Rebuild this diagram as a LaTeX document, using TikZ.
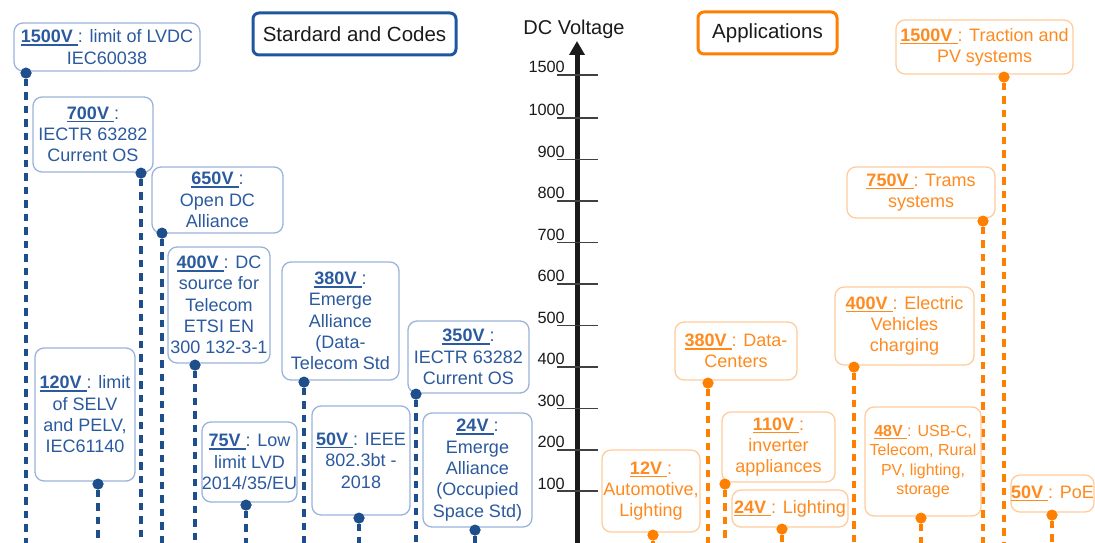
\documentclass[tikz,border=0pt]{standalone}
\usepackage{fontspec}
\setmainfont{Liberation Sans}
\usetikzlibrary{arrows.meta}
\definecolor{btext}{HTML}{2B5A9E}
\definecolor{bborder}{HTML}{9BB3DA}
\definecolor{bdot}{HTML}{1F4E8C}
\definecolor{tblue}{HTML}{1F56A0}
\definecolor{otext}{HTML}{FF8A1E}
\definecolor{oborder}{HTML}{FFCC9C}
\definecolor{odot}{HTML}{FF8000}
\definecolor{tickgray}{HTML}{404040}
\definecolor{ink}{HTML}{1A1A1A}
\newcommand{\vl}[1]{\setbox0\hbox{\textbf{#1}\ }\rlap{\rule[-3pt]{\wd0}{1.5pt}}\box0}
\tikzset{
  box/.style={rounded corners=9pt, line width=1.3pt, align=center, inner sep=0pt, fill=white,
    font=\fontsize{18}{21.3}\selectfont},
  bbox/.style={box, draw=bborder, text=btext},
  obox/.style={box, draw=oborder, text=otext},
  bdotst/.style={circle, fill=bdot, inner sep=0pt, minimum size=11pt},
  odotst/.style={circle, fill=odot, inner sep=0pt, minimum size=11pt},
  blink/.style={draw=bdot, line width=3.1pt, dash pattern=on 7.5pt off 6pt},
  olink/.style={draw=odot, line width=3.1pt, dash pattern=on 7.5pt off 6pt},
  titlebox/.style={rounded corners=6pt, line width=3pt, inner sep=0pt, text=ink,
    font=\fontsize{20.5}{24}\selectfont},
  tickst/.style={draw=tickgray, line width=1.6pt},
  ticklab/.style={anchor=base east, text=ink, font=\fontsize{16.3}{18}\selectfont, inner sep=0pt}
}
\begin{document}
\begin{tikzpicture}[x=1pt,y=-1pt]
\useasboundingbox (0,0) rectangle (1095,543);

% ---------- dots and bottom coordinates ----------
\node[bdotst] (db1) at (26,73) {};
\node[bdotst] (db2) at (141,173) {};
\node[bdotst] (db3) at (162,233) {};
\node[bdotst] (db4) at (195,365) {};
\node[bdotst] (db5) at (98,484) {};
\node[bdotst] (db6) at (246,505) {};
\node[bdotst] (db7) at (304,382) {};
\node[bdotst] (db8) at (359,518) {};
\node[bdotst] (db9) at (416,394) {};
\node[bdotst] (db10) at (475,530) {};
\node[odotst] (do1) at (1004,77) {};
\node[odotst] (do2) at (983,221) {};
\node[odotst] (do3) at (854,367) {};
\node[odotst] (do4) at (708,383) {};
\node[odotst] (do5) at (725,484) {};
\node[odotst] (do6) at (782,529) {};
\node[odotst] (do7) at (653,535) {};
\node[odotst] (do8) at (921,518) {};
\node[odotst] (do9) at (1052,515) {};

\foreach \n/\x in {b1/26,b2/141,b3/162,b4/195,b5/98,b6/246,b7/304,b8/359,b9/416,b10/475,
                   o1/1004,o2/983,o3/854,o4/708,o5/725,o6/782,o7/653,o8/921,o9/1052}
  \coordinate (e\n) at (\x,545);

\foreach \n in {b1,b2,b3,b4,b5,b6,b7,b8,b9,b10}
  \draw[blink] (d\n) -- (e\n);
\foreach \n in {o1,o2,o3,o4,o5,o6,o7,o8,o9}
  \draw[olink] (d\n) -- (e\n);

% ---------- blue boxes ----------
\node[bbox, minimum width=186pt, minimum height=48pt] (b1) at (107,47)
  {\vl{1500V}: limit of LVDC\\IEC60038};
\node[bbox, minimum width=120pt, minimum height=75pt] (b2) at (93,134.5)
  {\vl{700V}:\\IECTR 63282\\Current OS};
\node[bbox, minimum width=131pt, minimum height=66pt] (b3) at (217.5,200)
  {\vl{650V}:\\Open DC\\Alliance};
\node[bbox, minimum width=102pt, minimum height=116pt] (b4) at (219,305)
  {\vl{400V}: DC\\source for\\Telecom\\ETSI EN\\300 132-3-1};
\node[bbox, minimum width=100pt, minimum height=133pt] (b5) at (85,414.5)
  {\vl{120V}: limit\\of SELV\\and PELV,\\IEC61140};
\node[bbox, minimum width=95pt, minimum height=80pt] (b6) at (249.5,462)
  {\vl{75V}: Low\\limit LVD\\2014/35/EU};
\node[bbox, minimum width=117pt, minimum height=118pt] (b7) at (340.5,321)
  {\vl{380V}:\\Emerge\\Alliance\\(Data-\\Telecom Std};
\node[bbox, minimum width=98pt, minimum height=109pt] (b8) at (361,460.5)
  {\vl{50V}: IEEE\\802.3bt -\\2018};
\node[bbox, minimum width=121pt, minimum height=72pt] (b9) at (468.5,357)
  {\vl{350V}:\\IECTR 63282\\Current OS};
\node[bbox, minimum width=109pt, minimum height=114pt] (b10) at (477.5,470)
  {\vl{24V}:\\Emerge\\Alliance\\(Occupied\\Space Std)};

% ---------- orange boxes ----------
\node[obox, minimum width=177pt, minimum height=54pt] (o1) at (984.5,47)
  {\vl{1500V}: Traction and\\PV systems};
\node[obox, minimum width=148pt, minimum height=51pt] (o2) at (921,192.5)
  {\vl{750V}: Trams\\systems};
\node[obox, minimum width=139pt, minimum height=78pt] (o3) at (904.5,326)
  {\vl{400V}: Electric\\Vehicles\\charging};
\node[obox, minimum width=122pt, minimum height=58pt] (o4) at (736,351)
  {\vl{380V}: Data-\\Centers};
\node[obox, minimum width=113pt, minimum height=70pt] (o5) at (778.5,447)
  {\vl{110V}:\\inverter\\appliances};
\node[obox, minimum width=116pt, minimum height=37pt] (o6) at (790,508.5)
  {\vl{24V}: Lighting};
\node[obox, minimum width=98pt, minimum height=82pt] (o7) at (651,491)
  {\vl{12V}:\\Automotive,\\Lighting};
\node[obox, minimum width=116pt, minimum height=109pt, font=\fontsize{16}{19.5}\selectfont] (o8) at (923,461.5)
  {\vl{48V}: USB-C,\\Telecom, Rural\\PV, lighting,\\storage};
\node[obox, minimum width=83pt, minimum height=37pt] (o9) at (1052.5,493.5)
  {\vl{50V}: PoE};

% redraw dots on top of boxes
\foreach \n/\x/\y in {b1/26/73,b2/141/173,b3/162/233,b4/195/365,b5/98/484,b6/246/505,b7/304/382,b8/359/518,b9/416/394,b10/475/530}
  \fill[bdot] (\x,\y) circle (5.5pt);
\foreach \n/\x/\y in {o1/1004/77,o2/983/221,o3/854/367,o4/708/383,o5/725/484,o6/782/529,o7/653/535,o8/921/518,o9/1052/515}
  \fill[odot] (\x,\y) circle (5.5pt);

% ---------- titles ----------
\node[titlebox, draw=tblue, minimum width=203pt, minimum height=42pt] (tstd) at (354.5,34) {Stardard and Codes};
\node[titlebox, draw=odot, minimum width=139pt, minimum height=42pt] (tapp) at (767.5,33) {Applications};

% ---------- axis ----------
\coordinate (axbot) at (577,545);
\coordinate (axtop) at (577,41);
\draw[ink, line width=5pt, -{Triangle[width=15pt,length=14pt]}] (axbot) -- (axtop);
\node[text=ink, font=\fontsize{20}{24}\selectfont, inner sep=0pt] (axlab) at (574,29) {DC Voltage};
\foreach \v/\y in {1500/75,1000/117.7,900/159.3,800/200.7,700/242.3,600/283.7,500/325.3,400/366.7,300/408.3,200/449.7,100/491}{
  \draw[tickst] (557,\y) -- (598,\y);
  \node[ticklab] (t\v) at (565,\y-2) {\v};
}
\end{tikzpicture}
\end{document}
